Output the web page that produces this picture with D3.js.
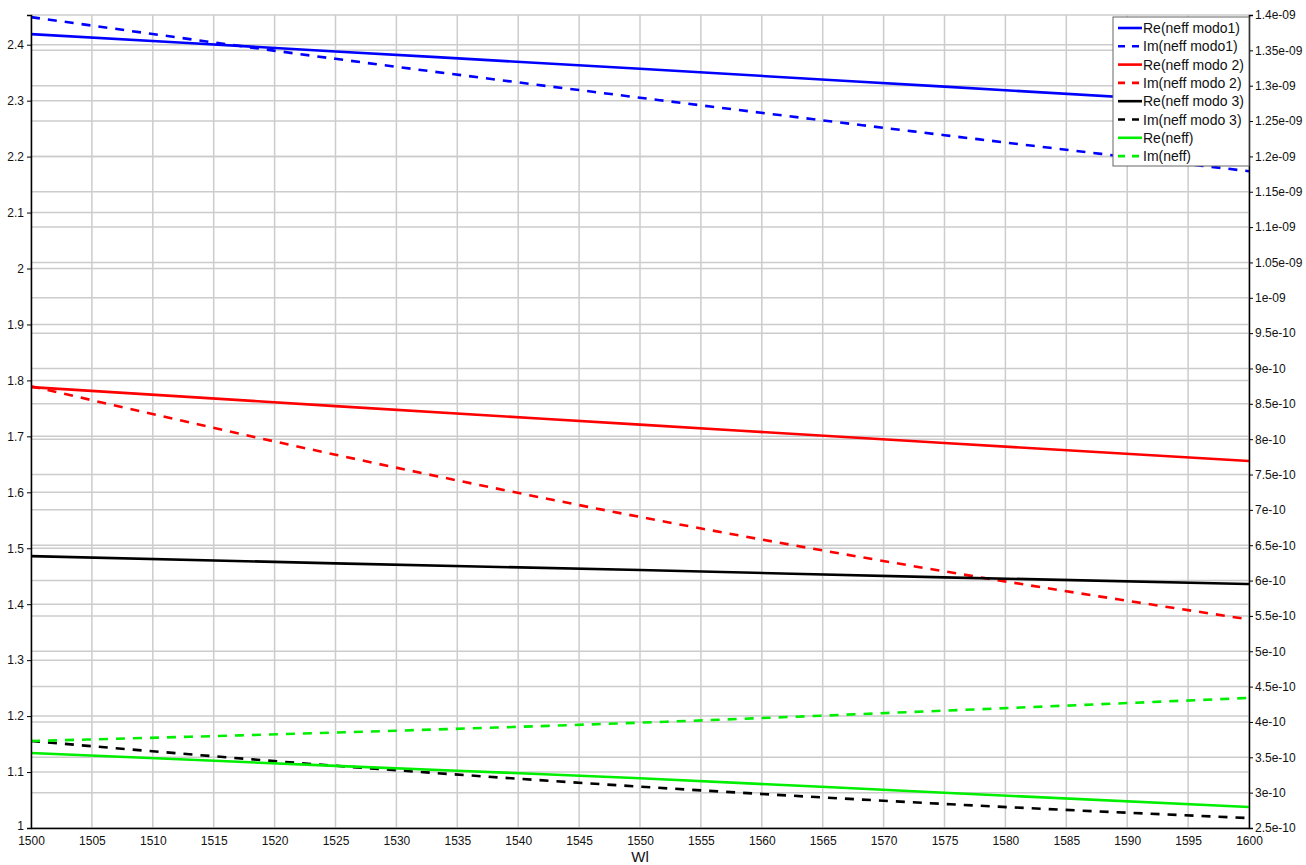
<!DOCTYPE html>
<html>
<head>
<meta charset="utf-8">
<script src="https://cdn.jsdelivr.net/npm/d3@7"></script>
<style>
  body { margin: 0; background: #fff; }
  text { font-family: "Liberation Sans", Arial, sans-serif; }
</style>
</head>
<body>
<svg id="chart" width="1306" height="865"></svg>
<script>
// wavelength samples
const wl = [1500, 1525, 1550, 1575, 1600];

// real parts (left axis)
const reModo1 = [2.419, 2.388, 2.357, 2.325, 2.293];
const reModo2 = [1.788, 1.754, 1.721, 1.688, 1.656];
const reModo3 = [1.486, 1.473, 1.461, 1.448, 1.436];
const reNeff  = [1.134, 1.111, 1.089, 1.063, 1.0375];

// imaginary parts (right axis)
const imModo1 = [1.397e-9, 1.338e-9, 1.283e-9, 1.230e-9, 1.179e-9];
const imModo2 = [8.75e-10, 7.78e-10, 6.90e-10, 6.13e-10, 5.45e-10];
const imModo3 = [3.73e-10, 3.38e-10, 3.085e-10, 2.84e-10, 2.64e-10];
const imNeff  = [3.73e-10, 3.85e-10, 3.99e-10, 4.16e-10, 4.34e-10];

const xTicks = d3.range(1500, 1601, 5);
const leftTicks = d3.range(10, 25).map(d => d / 10);
const rightTicks = d3.range(5, 29).map(d => d * 0.5e-10);

const series = [
  {name: 'Re(neff modo1)', vals: reModo1, axis: 'left', color: '#0000ff', dash: null},
  {name: 'Im(neff modo1)', vals: imModo1, axis: 'right', color: '#0000ff', dash: '9,8'},
  {name: 'Re(neff modo 2)', vals: reModo2, axis: 'left', color: '#ff0000', dash: null},
  {name: 'Im(neff modo 2)', vals: imModo2, axis: 'right', color: '#ff0000', dash: '9,8'},
  {name: 'Re(neff modo 3)', vals: reModo3, axis: 'left', color: '#000000', dash: null},
  {name: 'Im(neff modo 3)', vals: imModo3, axis: 'right', color: '#000000', dash: '9,8'},
  {name: 'Re(neff)', vals: reNeff, axis: 'left', color: '#00ee00', dash: null},
  {name: 'Im(neff)', vals: imNeff, axis: 'right', color: '#00ee00', dash: '9,8'}
];

const plotL = 31, plotR = 1249, plotT = 15, plotB = 828;
const svg = d3.select('#chart');

const x = d3.scaleLinear().domain([1500, 1600]).range([plotL, plotR]);
const yL = d3.scaleLinear().domain([1, 2.4531]).range([plotB, plotT]);
const yR = d3.scaleLinear().domain([2.5e-10, 1.4e-9]).range([plotB, plotT]);

function sciFmt(v) {
  let s = v.toExponential(2);
  let [m, e] = s.split('e');
  m = m.replace(/\.?0+$/, '');
  let sign = e[0] === '-' ? '-' : '+';
  let digits = e.replace(/[+-]/, '').padStart(2, '0');
  return m + 'e' + sign + digits;
}

// grid
const grid = svg.append('g').attr('stroke', '#cccccc').attr('stroke-width', 1.5);
grid.selectAll('.vx').data(xTicks).enter().append('line')
  .attr('x1', d => x(d)).attr('x2', d => x(d)).attr('y1', plotT).attr('y2', plotB);
grid.selectAll('.hl').data(leftTicks).enter().append('line')
  .attr('x1', plotL).attr('x2', plotR).attr('y1', d => yL(d)).attr('y2', d => yL(d));
grid.selectAll('.hr').data(rightTicks).enter().append('line')
  .attr('x1', plotL).attr('x2', plotR).attr('y1', d => yR(d)).attr('y2', d => yR(d));

// lines
const plot = svg.append('g');
series.forEach(s => {
  const yS = s.axis === 'left' ? yL : yR;
  const line = d3.line().x((d, i) => x(wl[i])).y(d => yS(d)).curve(d3.curveMonotoneX);
  plot.append('path')
    .datum(s.vals)
    .attr('d', line)
    .attr('fill', 'none')
    .attr('stroke', s.color)
    .attr('stroke-width', 2.6)
    .attr('stroke-dasharray', s.dash);
});

// axes
const fontSize = 12;
const xAxis = svg.append('g').attr('transform', `translate(0,${plotB})`)
  .call(d3.axisBottom(x).tickValues(xTicks).tickSize(0).tickPadding(8).tickFormat(d3.format('d')));
const lAxis = svg.append('g').attr('transform', `translate(${plotL},0)`)
  .call(d3.axisLeft(yL).tickValues(leftTicks).tickSize(4).tickPadding(3)
    .tickFormat(d => d3.format('.1f')(d).replace(/\.0$/, '')));
const rAxis = svg.append('g').attr('transform', `translate(${plotR},0)`)
  .call(d3.axisRight(yR).tickValues(rightTicks).tickSize(4).tickPadding(2).tickFormat(sciFmt));

[xAxis, lAxis, rAxis].forEach(a => {
  a.select('.domain').attr('stroke', '#000').attr('stroke-width', 1.5);
  a.selectAll('.tick line').attr('stroke', '#000');
  a.selectAll('.tick text').attr('font-size', fontSize).attr('fill', '#111')
    .style('font-family', '"Liberation Sans", Arial, sans-serif');
});
// nudge the lowest left label up so it clears the x labels
lAxis.selectAll('.tick text').filter(d => d === 1).attr('dy', '0.1em');

svg.append('text')
  .attr('x', (plotL + plotR) / 2).attr('y', 862)
  .attr('text-anchor', 'middle').attr('font-size', 15).attr('fill', '#111')
  .text('Wl');

// legend
const lg = svg.append('g').attr('transform', 'translate(1113,17)');
lg.append('rect').attr('width', 136).attr('height', 149)
  .attr('fill', '#fff').attr('stroke', '#666').attr('stroke-width', 1);
series.forEach((s, i) => {
  const yy = 11 + i * 18.3;
  lg.append('line').attr('x1', 5).attr('x2', 29).attr('y1', yy).attr('y2', yy)
    .attr('stroke', s.color).attr('stroke-width', 2.6)
    .attr('stroke-dasharray', s.dash ? '7,7' : null);
  lg.append('text').attr('x', 30).attr('y', yy + 5)
    .attr('font-size', 14).attr('fill', '#111').text(s.name);
});
</script>
</body>
</html>
